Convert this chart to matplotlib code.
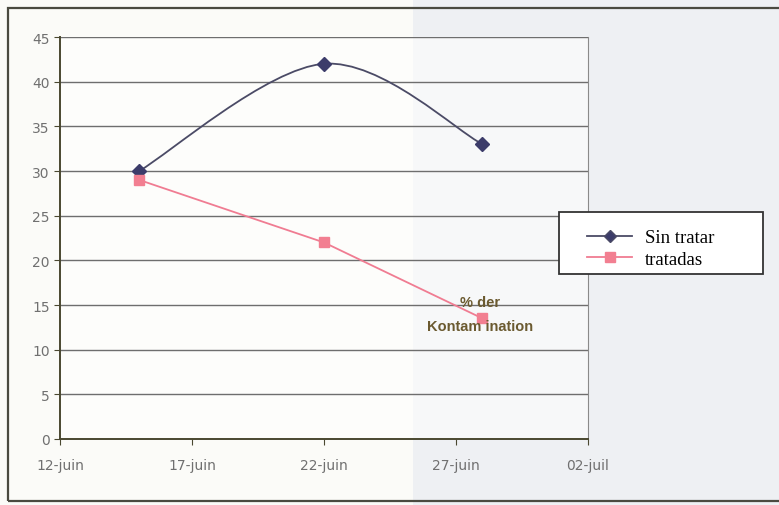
import matplotlib.pyplot as plt
import matplotlib.dates as mdates
from matplotlib.path import Path
from matplotlib.patches import PathPatch, Rectangle
from matplotlib.lines import Line2D
from datetime import date

# data
fechas = [date(2000, 6, 15), date(2000, 6, 22), date(2000, 6, 28)]
sin_tratar = [30, 42, 33]
tratadas = [29, 22, 13.5]
xticks = [date(2000, 6, 12), date(2000, 6, 17), date(2000, 6, 22), date(2000, 6, 27), date(2000, 7, 2)]
xlabels = ['12-juin', '17-juin', '22-juin', '27-juin', '02-juil']

fig = plt.figure(figsize=(7.79, 5.06), dpi=100)
fig.patch.set_facecolor('#fbfbf8')
# right-hand light area of the scan
fig.patches.append(Rectangle((0.53, 0.0), 0.47, 1.0, transform=fig.transFigure,
                             facecolor='#eef0f3', edgecolor='none', zorder=-10))
# outer frame
fig.patches.append(Rectangle((8 / 779, (506 - 502) / 506), 1.0, (502 - 9) / 506,
                             transform=fig.transFigure, fill=False,
                             edgecolor='#4a4a40', lw=1.6, zorder=-5))

ax = fig.add_axes([60 / 779, (506 - 440) / 506, (588 - 60) / 779, (440 - 38) / 506])
ax.set_facecolor((1, 1, 1, 0.55))

xn = mdates.date2num(fechas)
ax.set_xlim(mdates.date2num(xticks[0]), mdates.date2num(xticks[-1]))
ax.set_ylim(0, 45)
ax.set_yticks(range(0, 46, 5))
ax.set_xticks(mdates.date2num(xticks))
ax.set_xticklabels(xlabels)

ax.grid(axis='y', color='#6e6e6e', lw=1.0)
ax.set_axisbelow(True)
ax.spines['top'].set_visible(False)
ax.spines['right'].set_color('#8a8a8a')
ax.spines['left'].set_color('#4a4830')
ax.spines['bottom'].set_color('#4a4830')
ax.spines['left'].set_linewidth(1.4)
ax.spines['bottom'].set_linewidth(1.4)
ax.tick_params(axis='both', colors='#4a4830', labelcolor='#707070', labelsize=10,
               length=4, direction='out')
ax.tick_params(axis='x', pad=10)

# smoothed line (Excel style bezier) for "Sin tratar"
verts = [(xn[0], sin_tratar[0])]
codes = [Path.MOVETO]
pts = list(zip(xn, sin_tratar))
n = len(pts)
for i in range(n - 1):
    p0 = pts[i - 1] if i > 0 else pts[i]
    p1 = pts[i]
    p2 = pts[i + 1]
    p3 = pts[i + 2] if i + 2 < n else pts[i + 1]
    c1 = (p1[0] + (p2[0] - p0[0]) / 6, p1[1] + (p2[1] - p0[1]) / 6)
    c2 = (p2[0] - (p3[0] - p1[0]) / 6, p2[1] - (p3[1] - p1[1]) / 6)
    verts += [c1, c2, p2]
    codes += [Path.CURVE4, Path.CURVE4, Path.CURVE4]
ax.add_patch(PathPatch(Path(verts, codes), fill=False, edgecolor='#4b4b66', lw=1.3, zorder=3))
ax.plot(xn, sin_tratar, ls='none', marker='D', ms=7, color='#3c3c6a', zorder=4)

ax.plot(xn, tratadas, color='#f07c92', lw=1.3, marker='s', ms=7,
        markerfacecolor='#f27f91', markeredgecolor='#f27f91', zorder=4)

xt = mdates.date2num(date(2000, 6, 27)) + 0.9
ax.text(xt, 15.3, '% der', color='#6b5a30', fontsize=10.5, fontweight='bold',
        ha='center', va='center', zorder=5, family='Liberation Sans')
ax.text(xt, 12.7, 'Kontam ination', color='#6b5a30', fontsize=10.5, fontweight='bold',
        ha='center', va='center', zorder=5, family='Liberation Sans')

# legend: frame drawn separately, it is wider than the entries
fig.patches.append(Rectangle((559 / 779, 1 - 275 / 506), (763 - 559) / 779, (275 - 213) / 506,
                             transform=fig.transFigure, facecolor='white',
                             edgecolor='#333333', lw=1.3, zorder=4))
handles = [Line2D([], [], color='#4b4b66', marker='D', ms=6, markerfacecolor='#3c3c6a', lw=1.3),
           Line2D([], [], color='#f07c92', marker='s', ms=7, markerfacecolor='#f27f91',
                  markeredgecolor='#f27f91', lw=1.3)]
leg = fig.legend(handles, ['Sin tratar', 'tratadas'], loc='upper left',
                 bbox_to_anchor=(587 / 779, 1 - 230 / 506), frameon=False,
                 prop={'family': 'Liberation Serif', 'size': 13.5}, handlelength=2.4,
                 borderpad=0.0, labelspacing=0.25, handletextpad=0.7, borderaxespad=0)
leg.set_zorder(5)

fig.savefig('out.png', dpi=100, facecolor=fig.get_facecolor())
